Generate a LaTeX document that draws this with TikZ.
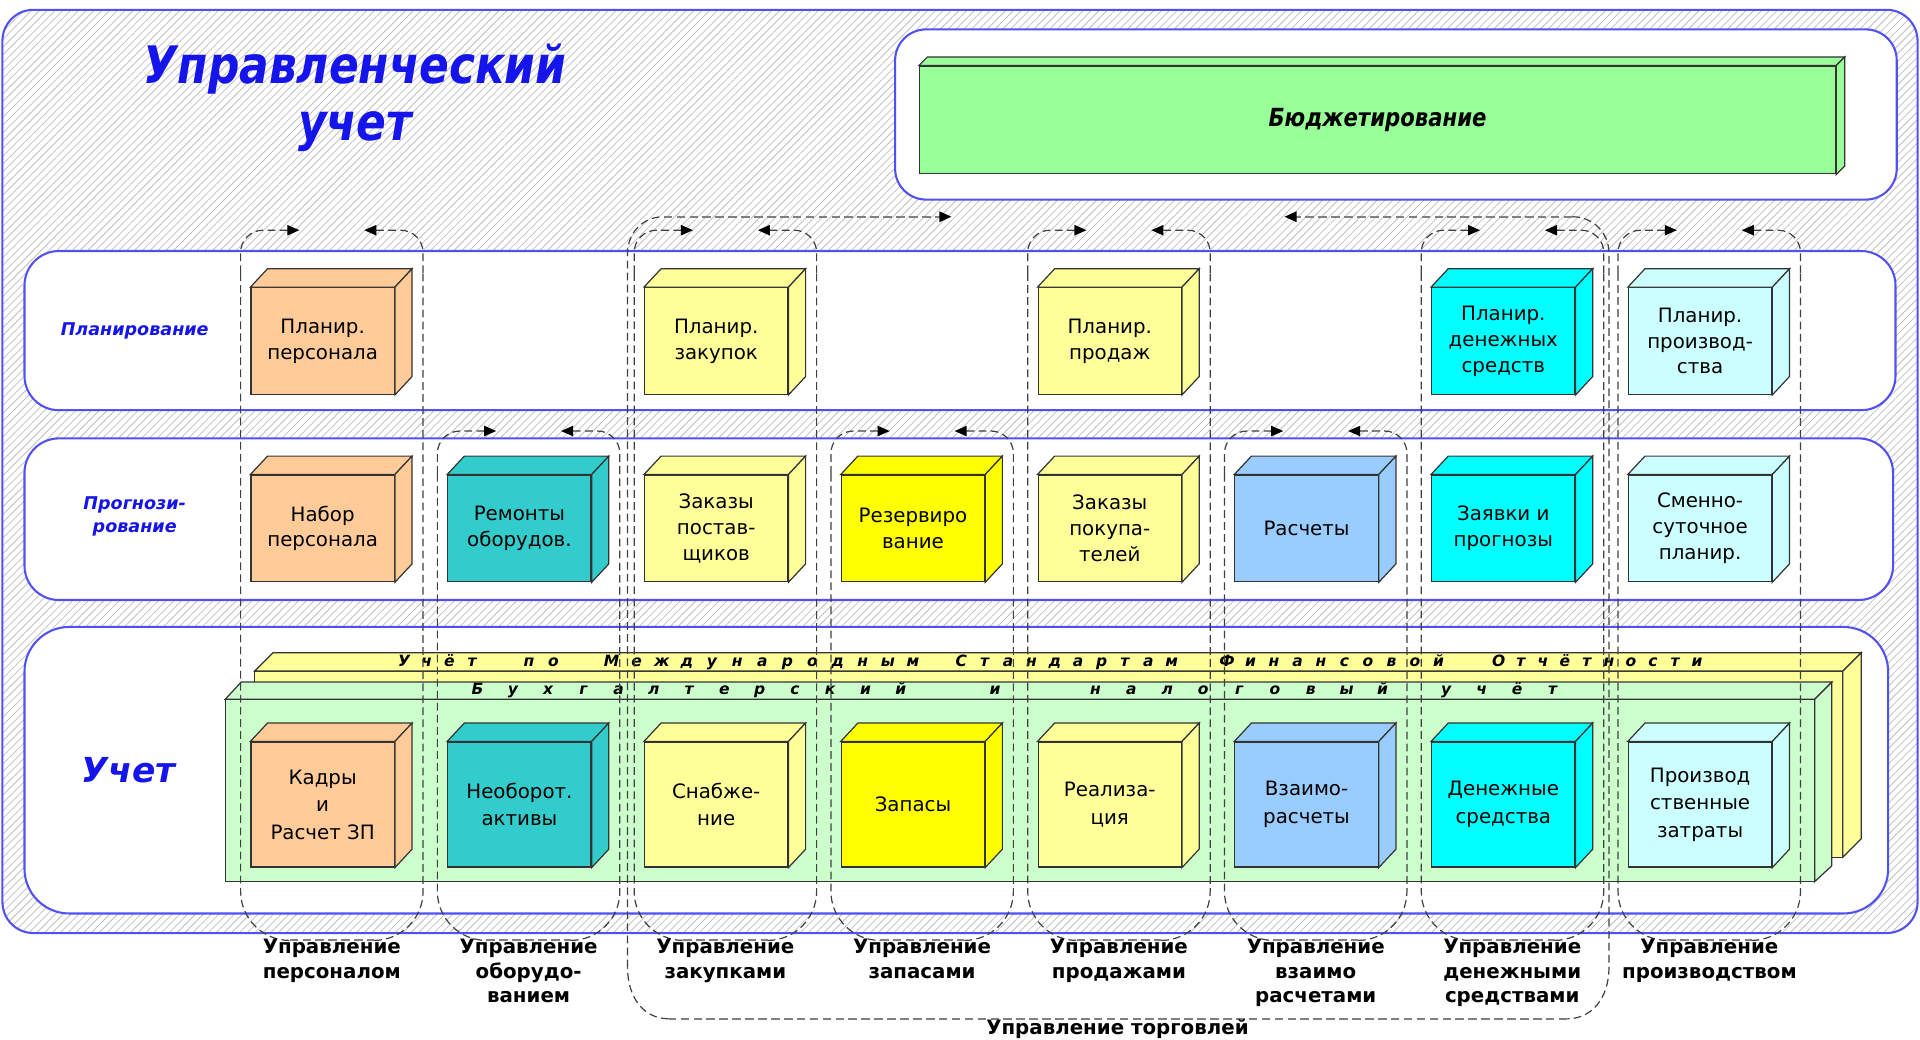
\documentclass[tikz,border=0pt]{standalone}
\usepackage{fontspec}
\setmainfont{DejaVu Sans}
\newfontfamily\narrowfont[FakeStretch=0.85]{DejaVu Sans}
\usetikzlibrary{arrows.meta,patterns.meta}

\definecolor{bandblue}{RGB}{80,80,245}
\definecolor{titleblue}{RGB}{20,20,235}
\definecolor{peach}{RGB}{255,204,153}
\definecolor{paleyellow}{RGB}{255,255,153}
\definecolor{brightyellow}{RGB}{255,255,0}
\definecolor{seacyan}{RGB}{51,204,204}
\definecolor{skyblue}{RGB}{153,204,255}
\definecolor{aqua}{RGB}{0,255,255}
\definecolor{paleaqua}{RGB}{204,255,255}
\definecolor{budgetgreen}{RGB}{153,255,153}
\definecolor{slabgreen}{RGB}{204,255,204}

\tikzset{
    frame/.style={draw=bandblue, line width=1.2pt, rounded corners=18pt,
        pattern={Lines[angle=45,distance=3.2pt,line width=0.45pt]}, pattern color=black!25},
    band/.style={draw=bandblue, line width=1.2pt, fill=white, rounded corners=20pt},
    face/.style={draw=black!80, line width=0.7pt},
    cube/.style={face, minimum width=2.925cm, minimum height=2.175cm, inner sep=1pt, align=center, font=\fontsize{11.5}{15}\selectfont},
    tallcube/.style={cube, minimum height=2.55cm, font=\fontsize{11.5}{16}\selectfont},
    budgetbox/.style={face, fill=budgetgreen, minimum width=18.7cm, minimum height=2.2cm, font=\narrowfont\fontsize{14.5}{16}\selectfont\bfseries\itshape},
    titletext/.style={text=titleblue, align=center, font=\narrowfont\fontsize{30}{33}\selectfont\bfseries\itshape},
    rowlabel/.style={text=titleblue, align=center, font=\fontsize{10.2}{13.5}\selectfont\bfseries\itshape},
    grouplabel/.style={anchor=north, inner sep=0pt, align=center, font=\fontsize{11.5}{14.2}\selectfont\bfseries},
    slabtext/.style={anchor=base, inner sep=0pt, font=\fontsize{9}{9}\selectfont\bfseries\itshape},
    % dashed group loops
    loopline/.style={draw=black!75, line width=0.7pt, dash pattern=on 4.5pt off 2.5pt},
    loophl/.style={draw=black!50, line width=1.1pt, dash pattern=on 5pt off 2.5pt}
}

% 3D box: front node plus top and right faces
\newcommand{\boxcube}[6][cube]{%
    \node[#1, fill=#5] (#2) at (#3,#4) {#6};
    \filldraw[face, fill=#5] (#2.north west) -- ++(14,-15) -- ([shift={(14,-15)}]#2.north east) -- (#2.north east) -- cycle;
    \filldraw[face, fill=#5] (#2.north east) -- ([shift={(14,-15)}]#2.north east) -- ([shift={(14,-15)}]#2.south east) -- (#2.south east) -- cycle;
}
% letter-spaced word on a slab
\newcommand{\spacedword}[4]{%
    \foreach \ltr [count=\i from 0] in {#4} {\node[slabtext] at ({#1+\i*#3},#2) {\ltr};}
}

\begin{document}
\begin{tikzpicture}[x=0.025cm, y=-0.025cm, >={Triangle[length=7pt,width=6pt,color=black]}]
    \useasboundingbox (0,0) rectangle (1568,849);
    \fill[white] (0,0) rectangle (1568,849);

    % Hatched frame
    \draw[frame] (2,8) rectangle (1566,762);
    \node[titletext] (title) at (290,80) {Управленческий\\учет};

    % Budgeting panel
    \draw[band, rounded corners=18pt] (731,24) rectangle (1549,163);
    \node[budgetbox] (budget) at (1125,98) {Бюджетирование};
    \filldraw[face, fill=budgetgreen] (budget.north west) -- ++(7,-7) -- ([shift={(7,-7)}]budget.north east) -- (budget.north east) -- cycle;
    \filldraw[face, fill=budgetgreen] (budget.north east) -- ([shift={(7,-7)}]budget.north east) -- ([shift={(7,-7)}]budget.south east) -- (budget.south east) -- cycle;

    % Row bands
    \draw[band] (20,205) rectangle (1548,335);
    \draw[band] (20,358) rectangle (1546,490);
    \draw[band, rounded corners=26pt] (20,512) rectangle (1542,746);
    \node[rowlabel] (planlbl) at (110,270) {Планирование};
    \node[rowlabel] (proglbl) at (110,422) {Прогнози-\\рование};
    \node[rowlabel, font=\fontsize{20}{22}\selectfont\bfseries\itshape] (acclbl) at (105,629) {Учет};

    % Accounting slabs
    \filldraw[face, fill=paleyellow] (208,548) rectangle (1505,700);
    \filldraw[face, fill=paleyellow] (208,548) -- (223,533) -- (1520,533) -- (1505,548) -- cycle;
    \filldraw[face, fill=paleyellow] (1505,548) -- (1520,533) -- (1520,685) -- (1505,700) -- cycle;
    \filldraw[face, fill=slabgreen] (184,571) rectangle (1482,720);
    \filldraw[face, fill=slabgreen] (184,571) -- (197,557) -- (1496,557) -- (1482,571) -- cycle;
    \filldraw[face, fill=slabgreen] (1482,571) -- (1496,557) -- (1496,707) -- (1482,720) -- cycle;

    \spacedword{330}{544.5}{18.5}{У,ч,ё,т}
    \spacedword{432}{544.5}{20}{п,о}
    \spacedword{499.5}{544.5}{20.5}{М,е,ж,д,у,н,а,р,о,д,н,ы,м}
    \spacedword{785}{544.5}{19.1}{С,т,а,н,д,а,р,т,а,м}
    \spacedword{1002}{544.5}{19.2}{Ф,и,н,а,н,с,о,в,о,й}
    \spacedword{1224}{544.5}{18}{О,т,ч,ё,т,н,о,с,т,и}
    \spacedword{390}{567.5}{28.8}{Б,у,х,г,а,л,т,е,р,с,к,и,й}
    \spacedword{812.6}{567.5}{0}{и}
    \spacedword{894.7}{567.5}{29.3}{н,а,л,о,г,о,в,ы,й}
    \spacedword{1181}{567.5}{29}{у,ч,ё,т}

    % Planning row
    \boxcube{plan1}{263.5}{278.5}{peach}{Планир.\\персонала}
    \boxcube{plan3}{584.9}{278.5}{paleyellow}{Планир.\\закупок}
    \boxcube{plan5}{906.3}{278.5}{paleyellow}{Планир.\\продаж}
    \boxcube{plan7}{1227.7}{278.5}{aqua}{Планир.\\денежных\\средств}
    \boxcube{plan8}{1388.4}{278.5}{paleaqua}{Планир.\\производ-\\ства}

    % Forecasting row
    \boxcube{prog1}{263.5}{431.5}{peach}{Набор\\персонала}
    \boxcube{prog2}{424.2}{431.5}{seacyan}{Ремонты\\оборудов.}
    \boxcube{prog3}{584.9}{431.5}{paleyellow}{Заказы\\постав-\\щиков}
    \boxcube{prog4}{745.6}{431.5}{brightyellow}{Резервиро\\вание}
    \boxcube{prog5}{906.3}{431.5}{paleyellow}{Заказы\\покупа-\\телей}
    \boxcube{prog6}{1067}{431.5}{skyblue}{Расчеты}
    \boxcube{prog7}{1227.7}{431.5}{aqua}{Заявки и\\прогнозы}
    \boxcube{prog8}{1388.4}{431.5}{paleaqua}{Сменно-\\суточное\\планир.}

    % Accounting row
    \boxcube[tallcube]{acc1}{263.5}{657}{peach}{Кадры\\и\\Расчет ЗП}
    \boxcube[tallcube]{acc2}{424.2}{657}{seacyan}{Необорот.\\активы}
    \boxcube[tallcube]{acc3}{584.9}{657}{paleyellow}{Снабже-\\ние}
    \boxcube[tallcube]{acc4}{745.6}{657}{brightyellow}{Запасы}
    \boxcube[tallcube]{acc5}{906.3}{657}{paleyellow}{Реализа-\\ция}
    \boxcube[tallcube]{acc6}{1067}{657}{skyblue}{Взаимо-\\расчеты}
    \boxcube[tallcube]{acc7}{1227.7}{657}{aqua}{Денежные\\средства}
    \boxcube[tallcube]{acc8}{1388.4}{657}{paleaqua}{Производ\\ственные\\затраты}

    % Column loops
    \foreach \k/\ytop in {1/188,2/352,3/188,4/352,5/188,6/352,7/188,8/188} {
        \pgfmathsetmacro\xl{196.5+(\k-1)*160.7}
        \pgfmathsetmacro\xr{\xl+149}
        \draw[loopline, ->, rounded corners=13pt] (\xl,\ytop+35) -- (\xl,\ytop) -- (\xl+48,\ytop);
        \draw[loopline, ->, rounded corners=13pt] (\xr,\ytop+35) -- (\xr,\ytop) -- (\xr-48,\ytop);
        \draw[loopline] (\xl,\ytop+35) -- (\xl,728) .. controls (\xl,750) and (\xl+18,768) .. (\xl+40,768);
        \draw[loophl] (\xl+40,768) -- (\xr-40,768);
        \draw[loopline] (\xr-40,768) .. controls (\xr-18,768) and (\xr,750) .. (\xr,728) -- (\xr,\ytop+35);
    }

    % Trade management loop
    \draw[loopline] (512.5,790) -- (512.5,207) .. controls (512.5,190) and (525,177) .. (542,177);
    \draw[loophl, ->] (542,177) -- (777,177);
    \draw[loophl, ->] (1284,177) -- (1049,177);
    \draw[loopline] (1284,177) .. controls (1301,177) and (1314,190) .. (1314,207) -- (1314,790) .. controls (1314,815) and (1300,832) .. (1280,832);
    \draw[loophl] (1280,832) -- (546,832);
    \draw[loopline] (546,832) .. controls (526,832) and (512.5,815) .. (512.5,790);

    % Group labels
    \node[grouplabel] (grp1) at (271,767) {Управление\\персоналом};
    \node[grouplabel] (grp2) at (431.7,767) {Управление\\оборудо-\\ванием};
    \node[grouplabel] (grp3) at (592.4,767) {Управление\\закупками};
    \node[grouplabel] (grp4) at (753,767) {Управление\\запасами};
    \node[grouplabel] (grp5) at (913.8,767) {Управление\\продажами};
    \node[grouplabel] (grp6) at (1074.5,767) {Управление\\взаимо\\расчетами};
    \node[grouplabel] (grp7) at (1235,767) {Управление\\денежными\\средствами};
    \node[grouplabel] (grp8) at (1396,767) {Управление\\производством};
    \node[grouplabel, anchor=center] (trade) at (912.6,840) {Управление торговлей};
\end{tikzpicture}
\end{document}
